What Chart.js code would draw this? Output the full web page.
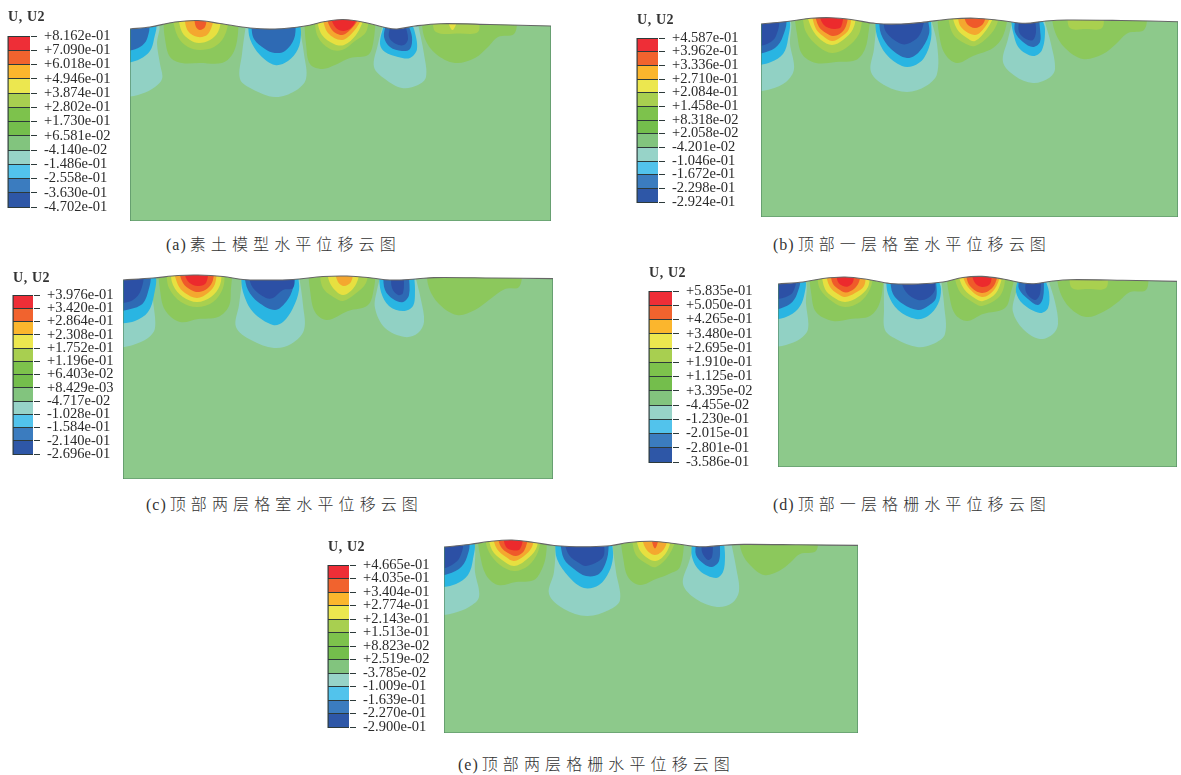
<!DOCTYPE html>
<html>
<head>
<meta charset="utf-8">
<title>U2</title>
<script src="https://cdn.jsdelivr.net/npm/chart.js@4/dist/chart.umd.js"></script>
<style>
  html, body { margin: 0; background: #fff; }
  #page { position: relative; width: 1181px; height: 775px; overflow: hidden; }
  canvas { position: absolute; }
  .name { position: absolute; font: bold 14px "Liberation Serif", serif; letter-spacing: .6px; color: #333; white-space: nowrap; transform: translateY(-50%); }
  .cap { position: absolute; font: 300 16px "Noto Sans CJK SC", sans-serif; letter-spacing: 5.1px; color: #333; white-space: nowrap; transform: translateY(-50%); }
  .cap span { font-family: "Liberation Serif", serif; font-size: 16px; letter-spacing: 1px; margin-right: 3px; }
</style>
</head>
<body>
<div id="page"></div>
<script>
// colour levels, top of the legend first
const legendColors = ['#ee2e37', '#f1632e', '#fbb62d', '#ece74f', '#a8cf50', '#7dc24c', '#74be4c', '#82c47e', '#97d3c8', '#52c3ec', '#3b7cbf', '#2e57a7'];
const fieldColors = ['#ec2a2d', '#ef5a2a', '#f4a72f', '#e7e040', '#a9d04f', '#8cc85c', '#8cc85c', '#8dc98b', '#91d1c4', '#29b5e2', '#2e6ab4', '#2c50a5'];
const Y = 3, YG = 4, G = 6, T = 8, S = 9, B = 10, D = 11, R = 0, RO = 1, O = 2;

const ticksA = ['+8.162e-01', '+7.090e-01', '+6.018e-01', '+4.946e-01', '+3.874e-01', '+2.802e-01', '+1.730e-01', '+6.581e-02', '-4.140e-02', '-1.486e-01', '-2.558e-01', '-3.630e-01', '-4.702e-01'];
const ticksB = ['+4.587e-01', '+3.962e-01', '+3.336e-01', '+2.710e-01', '+2.084e-01', '+1.458e-01', '+8.318e-02', '+2.058e-02', '-4.201e-02', '-1.046e-01', '-1.672e-01', '-2.298e-01', '-2.924e-01'];
const ticksC = ['+3.976e-01', '+3.420e-01', '+2.864e-01', '+2.308e-01', '+1.752e-01', '+1.196e-01', '+6.403e-02', '+8.429e-03', '-4.717e-02', '-1.028e-01', '-1.584e-01', '-2.140e-01', '-2.696e-01'];
const ticksD = ['+5.835e-01', '+5.050e-01', '+4.265e-01', '+3.480e-01', '+2.695e-01', '+1.910e-01', '+1.125e-01', '+3.395e-02', '-4.455e-02', '-1.230e-01', '-2.015e-01', '-2.801e-01', '-3.586e-01'];
const ticksE = ['+4.665e-01', '+4.035e-01', '+3.404e-01', '+2.774e-01', '+2.143e-01', '+1.513e-01', '+8.823e-02', '+2.519e-02', '-3.785e-02', '-1.009e-01', '-1.639e-01', '-2.270e-01', '-2.900e-01'];

// ground surface: [distance, depth below the initial ground line]
const surfaceA = [[0,0],[20,-2],[45,-7],[68,-8.5],[90,-5.5],[120,-1],[145,0],[175,-3],[195,-7.5],[213,-9.5],[235,-6.5],[255,-1.5],[267,0],[285,-3],[310,-5.3],[360,-4.5],[421,-3]];
const surfaceB = [[0,0],[30,-3],[50,-5.7],[70,-6.3],[90,-4.5],[115,-0.5],[140,0],[160,-1.5],[190,-5],[214,-5.8],[240,-3.5],[264,-0.7],[285,-3],[306,-4],[360,-3.5],[417,-2.3]];
const surfaceC = [[0,0],[30,-2],[55,-4.5],[75,-5],[100,-3.5],[120,-0.5],[140,0],[170,-0.5],[200,-3.5],[224,-4],[245,-2.5],[262,-0.3],[276,0],[295,-1.2],[311,-2.4],[370,-2],[430,-1.4]];
const surfaceD = [[0,0],[25,-2],[45,-5.5],[67,-7],[90,-4.5],[112,-0.5],[140,0],[165,-2],[185,-6.5],[204,-7.6],[225,-5],[245,-1],[256,-0.3],[275,-3],[292,-4.3],[345,-3.7],[399,-2.6]];
const surfaceE = [[0,0],[25,-2.5],[45,-5.5],[68,-7],[90,-4.5],[110,-1.5],[125,-0.5],[145,-0.3],[166,-1.3],[185,-4.5],[208,-5.7],[230,-3.5],[250,-0.8],[262,-0.3],[280,-1.8],[300,-2.6],[355,-2.2],[414,-1.6]];

// contour bands, outer band first: [level, outline]
const contoursA = [
  [T, [[-5,-5],[28,-5],[27,15],[30,35],[32,50],[22,60],[8,66],[-5,68]]],
  [S, [[-5,-5],[25,-5],[24,10],[20,22],[10,30],[-5,35]]],
  [B, [[-5,-5],[18,-5],[17,10],[10,18],[-5,23]]],
  [G, [[33,-12],[35,10],[40,28],[52,34],[70,34],[92,34],[102,26],[107,12],[109,-12]]],
  [YG, [[42,-12],[48,8],[58,18],[70,21],[84,18],[94,8],[100,-12]]],
  [Y, [[48,-12],[52,3],[60,11],[69,14],[80,11],[88,3],[92,-12]]],
  [O, [[54,-12],[58,2],[68,8],[78,5],[85,-12]]],
  [RO, [[64,-12],[66,-2],[70,1],[75,-2],[77,-12]]],
  [T, [[116,-5],[112,25],[110,50],[122,60],[145,68],[165,62],[176,50],[174,25],[169,-5]]],
  [S, [[118,-5],[120,10],[130,26],[145,36],[158,32],[168,20],[171,5],[170,-5]]],
  [B, [[121,-5],[124,10],[135,20],[145,24],[155,22],[164,10],[166,-5]]],
  [G, [[174,-12],[176,15],[180,35],[192,40],[205,36],[220,29],[238,26],[243,15],[246,-12]]],
  [YG, [[184,-12],[188,8],[200,20],[212,21],[225,12],[236,3],[239,-12]]],
  [Y, [[186,-12],[192,6],[204,15],[214,16],[226,6],[235,-12]]],
  [O, [[192,-12],[198,4],[212,11],[224,2],[233,-12]]],
  [RO, [[196,-12],[202,1],[212,6],[222,-1],[230,-12]]],
  [R, [[200,-12],[206,-1],[214,2],[222,-2],[228,-12]]],
  [T, [[253,-5],[248,15],[244,38],[255,50],[272,59],[288,56],[296,48],[294,25],[288,-5]]],
  [S, [[254,-5],[250,15],[255,23],[268,28],[280,29],[287,20],[284,0],[281,-5]]],
  [B, [[256,-5],[254,8],[260,18],[272,22],[280,20],[282,8],[278,-5]]],
  [D, [[261,-5],[259,8],[266,15],[274,16],[278,10],[275,-5]]],
  [G, [[291,-12],[295,10],[306,25],[325,34],[345,29],[358,18],[368,8],[384,5],[388,-12]]],
  [YG, [[302,-12],[306,3],[330,4.5],[348,3],[349,-12]]],
  [Y, [[316,-12],[322.5,1],[329,-12]]]
];
const contoursB = [
  [T, [[-5,-5],[28,-5],[29,20],[33,45],[25,58],[10,65],[-5,68]]],
  [S, [[-5,-5],[27,-5],[27,15],[22,30],[10,38],[-5,42]]],
  [B, [[-5,-5],[24,-5],[22,12],[14,24],[-5,31]]],
  [D, [[-5,-5],[17,-5],[15,12],[8,19],[-5,23]]],
  [G, [[33,-12],[36,10],[41,30],[55,39],[75,38],[95,36],[104,25],[108,5],[110,-12]]],
  [YG, [[41,-12],[45,8],[58,23],[71,29],[85,24],[98,10],[102,-12]]],
  [Y, [[45,-12],[51,5],[60,16],[71,21],[82,16],[92,5],[96,-12]]],
  [O, [[50,-12],[55,5],[62,12],[71,17],[80,13],[88,5],[91,-12]]],
  [RO, [[53,-12],[58,3],[65,9],[72,12],[80,9],[85,2],[88,-12]]],
  [R, [[57,-12],[62,0],[68,4],[74,5],[80,3],[83,-12]]],
  [T, [[116,-5],[113,25],[110,48],[125,62],[146,68],[165,62],[176,50],[176,20],[170,-5]]],
  [S, [[114,-5],[116,12],[125,30],[141,42],[152,42],[163,34],[170,15],[170,-5]]],
  [B, [[118,-5],[120,10],[130,25],[146,34],[158,28],[168,10],[167,-5]]],
  [D, [[122,-5],[125,8],[138,19],[146,20],[158,12],[164,-5]]],
  [G, [[176,-12],[178,10],[184,30],[196,39],[212,32],[232,24],[242,12],[248,-12]]],
  [YG, [[186,-12],[192,10],[205,20],[214,22],[228,12],[236,0],[238,-12]]],
  [Y, [[190,-12],[196,5],[206,14],[214,17],[226,5],[235,-12]]],
  [O, [[196,-12],[200,3],[214,11],[224,3],[232,-12]]],
  [RO, [[202,-12],[206,0],[214,4],[222,0],[226,-12]]],
  [T, [[252,-5],[247,15],[242,38],[254,52],[272,59],[288,54],[294,45],[290,20],[283,-5]]],
  [S, [[250,-5],[252,8],[258,24],[272,32],[281,26],[284,5],[281,-5]]],
  [B, [[254,-5],[254,8],[262,18],[272,23],[279,18],[279,5],[278,-5]]],
  [D, [[258,-5],[258,8],[265,15],[272,16],[275,8],[274,-5]]],
  [G, [[290,-12],[294,8],[304,24],[322,35],[342,30],[355,20],[367,9],[383,6],[387,-12]]],
  [YG, [[306,-12],[309,4],[325,5],[341,4],[343,-12]]]
];
const contoursC = [
  [T, [[-5,-5],[28,-5],[30,20],[32,48],[25,58],[10,65],[-5,68]]],
  [S, [[-5,-5],[31,-5],[31,15],[25,32],[12,41],[-5,44]]],
  [B, [[-5,-5],[26,-5],[25,12],[18,25],[-5,32]]],
  [D, [[-5,-5],[19,-5],[18,10],[10,20],[-5,24]]],
  [G, [[35,-12],[37,10],[42,30],[57,42],[75,39],[95,37],[106,26],[108,8],[110,-12]]],
  [YG, [[43,-12],[46,8],[58,22],[74,27],[90,22],[100,8],[102,-12]]],
  [Y, [[47,-12],[50,5],[60,17],[74,22],[88,17],[97,5],[99,-12]]],
  [O, [[50,-12],[55,5],[62,13],[74,18],[85,13],[92,4],[94,-12]]],
  [RO, [[55,-12],[60,3],[68,10],[76,12],[85,8],[90,0],[91,-12]]],
  [R, [[60,-12],[64,0],[70,5],[76,6],[83,3],[86,-12]]],
  [T, [[120,-5],[116,25],[113,47],[128,60],[151,68],[168,64],[181,50],[180,25],[176,-5]]],
  [S, [[118,-5],[120,12],[130,32],[150,45],[160,42],[170,28],[176,10],[175,-5]]],
  [B, [[121,-5],[125,10],[135,22],[152,30],[163,22],[170,8],[170,-5]]],
  [D, [[125,-5],[130,8],[143,18],[150,18],[160,10],[170,8],[172,-5]]],
  [G, [[185,-12],[187,10],[192,32],[204,40],[225,31],[245,25],[251,8],[253,-12]]],
  [YG, [[196,-12],[200,8],[212,18],[220,21],[232,14],[243,3],[245,-12]]],
  [Y, [[203,-12],[208,5],[220,15],[232,6],[238,-12]]],
  [O, [[211,-12],[215,2],[221,6],[228,2],[231,-12]]],
  [T, [[258,-5],[254,10],[252,28],[262,48],[282,57],[295,53],[301,42],[298,20],[292,-5]]],
  [S, [[256,-5],[258,12],[266,26],[280,31],[290,26],[292,10],[291,-5]]],
  [B, [[260,-5],[262,10],[270,19],[280,22],[286,15],[286,-5]]],
  [D, [[268,-5],[269,8],[275,15],[280,13],[281,-5]]],
  [G, [[303,-12],[306,8],[316,24],[334,35],[352,30],[366,20],[382,9],[396,7],[400,-12]]]
];
const contoursD = [
  [T, [[-5,-5],[26,-5],[28,20],[30,45],[22,55],[8,61],[-5,63]]],
  [S, [[-5,-5],[26,-5],[26,12],[20,25],[8,33],[-5,36]]],
  [B, [[-5,-5],[21,-5],[19,10],[12,20],[-5,27]]],
  [D, [[-5,-5],[17,-5],[15,8],[8,13],[-5,16]]],
  [G, [[31,-12],[33,8],[38,28],[55,37],[72,35],[92,32],[102,18],[106,-12]]],
  [YG, [[39,-12],[42,5],[55,18],[67,23],[82,18],[92,5],[96,-12]]],
  [Y, [[43,-12],[47,5],[55,13],[67,18],[80,13],[90,3],[92,-12]]],
  [O, [[47,-12],[52,3],[60,10],[67,13],[77,9],[86,2],[88,-12]]],
  [RO, [[52,-12],[55,0],[62,6],[68,8.5],[76,5],[81,-2],[83,-12]]],
  [R, [[58,-12],[60,-2],[65,2],[70,2.5],[75,-2],[76,-12]]],
  [T, [[106,-5],[106,25],[107,46],[118,55],[139,63],[155,60],[167,50],[166,20],[163,-5]]],
  [S, [[108,-5],[110,10],[120,26],[138,35],[150,32],[160,20],[163,5],[160,-5]]],
  [B, [[112,-5],[115,10],[125,20],[140,26],[150,22],[158,14],[158,-5]]],
  [D, [[122,-5],[128,8],[140,16],[150,14],[157,6],[156,-5]]],
  [G, [[168,-12],[171,10],[177,30],[189,37],[205,30],[227,24],[233,8],[238,-12]]],
  [YG, [[175,-12],[182,8],[196,19],[204,22],[220,14],[226,3],[227,-12]]],
  [Y, [[179,-12],[186,5],[198,15],[205,17],[218,9],[226,-12]]],
  [O, [[183,-12],[190,3],[204,13],[216,6],[224,-12]]],
  [RO, [[187,-12],[192,2],[204,9],[215,3],[221,-12]]],
  [R, [[193,-12],[197,-1],[204,3],[212,0],[214,-12]]],
  [T, [[243,-5],[237,12],[235,28],[245,45],[262,55],[275,50],[280,40],[277,18],[270,-5]]],
  [S, [[240,-5],[238,8],[245,20],[262,29],[270,24],[271,8],[267,-5]]],
  [B, [[241,-5],[241,5],[250,15],[260,21],[265,14],[266,-5]]],
  [D, [[248,-5],[248,8],[257,16],[262,10],[263,-5]]],
  [G, [[278,-12],[282,8],[292,24],[308,33],[325,28],[340,18],[352,8],[368,6],[371,-12]]],
  [YG, [[291,-12],[294,4],[310,5],[328,4],[330,-12]]]
];
const contoursE = [
  [T, [[-5,-5],[28,-5],[31,25],[35,50],[25,60],[10,66],[-5,69]]],
  [S, [[-5,-5],[29,-5],[29,12],[24,28],[12,37],[-5,41]]],
  [B, [[-5,-5],[24,-5],[23,10],[15,22],[-5,30]]],
  [D, [[-5,-5],[18,-5],[16,10],[8,18],[-5,23]]],
  [G, [[33,-12],[36,8],[42,28],[54,38],[72,35],[90,33],[98,22],[102,8],[103,-12]]],
  [YG, [[40,-12],[45,5],[56,18],[70,24],[84,19],[94,5],[97,-12]]],
  [Y, [[44,-12],[48,3],[58,13],[70,19],[82,13],[92,2],[95,-12]]],
  [O, [[48,-12],[53,2],[62,10],[70,14],[80,9],[88,0],[90,-12]]],
  [RO, [[53,-12],[57,0],[64,6],[72,9],[80,4],[85,-12]]],
  [R, [[59,-12],[62,0],[70,3.5],[76,2],[80,-12]]],
  [T, [[112,-5],[110,25],[105,47],[120,62],[143,69],[165,63],[176,53],[172,25],[168,-5]]],
  [S, [[111,-5],[113,12],[125,30],[140,41],[155,38],[165,25],[169,10],[168,-5]]],
  [B, [[116,-5],[120,12],[130,22],[142,29],[155,27],[163,12],[165,-5]]],
  [D, [[120,-5],[125,8],[135,16],[142,19],[155,14],[160,8],[160,-5]]],
  [G, [[176,-12],[179,10],[184,30],[196,38],[212,32],[225,27],[236,20],[241,-12]]],
  [YG, [[187,-12],[192,8],[203,17],[212,20],[225,8],[234,-12]]],
  [Y, [[191,-12],[197,5],[211,14],[222,6],[229,-12]]],
  [O, [[197,-12],[202,2],[211,8],[220,2],[225,-12]]],
  [RO, [[206,-12],[211,1.5],[216,-12]]],
  [T, [[251,-5],[245,15],[239,37],[252,52],[273,60],[288,56],[295,44],[292,20],[287,-5]]],
  [S, [[248,-5],[248,10],[256,24],[272,31],[279,25],[281,10],[280,-5]]],
  [B, [[252,-5],[252,8],[260,17],[268,20],[275,14],[276,-5]]],
  [D, [[258,-5],[258,5],[264,13],[268,10],[269,-5]]],
  [G, [[294,-12],[298,6],[306,18],[320,28],[335,24],[347,15],[356,7],[372,4],[374,-12]]]
];

const captions = ['素土模型水平位移云图', '顶部一层格室水平位移云图', '顶部两层格室水平位移云图', '顶部一层格栅水平位移云图', '顶部两层格栅水平位移云图'];

const page = document.getElementById('page');
const RISE = 12; // room above the ground line
const PAD = 2;

function novoCanvas(x, y, w, h) {
  const c = document.createElement('canvas');
  c.width = w; c.height = h;
  c.style.left = x + 'px'; c.style.top = y + 'px';
  c.style.width = w + 'px'; c.style.height = h + 'px';
  page.appendChild(c);
  return c;
}

function xy(list) {
  return list.map(p => ({ x: p[0], y: p[1] }));
}

function desenharModelo(left, ground, W, H, surface, contours) {
  const canvas = novoCanvas(left - PAD, ground - RISE - PAD, W + PAD * 2, H + RISE + PAD * 2);
  const ds = [];
  const body = [[-5, -RISE], [W + 5, -RISE], [W + 5, H + 5], [-5, H + 5]];
  ds.push({ data: xy(body), backgroundColor: fieldColors[7], fill: 'shape', tension: 0 });
  contours.forEach(c => {
    ds.push({ data: xy(c[1]), backgroundColor: fieldColors[c[0]], fill: 'shape', tension: 0.35 });
  });
  // white above the deformed ground
  ds.push({ data: xy(surface), backgroundColor: '#fff', fill: 'end', borderColor: '#666', borderWidth: 1.1, tension: 0.35 });
  const frame = [[0, 0], [0, H], [W, H], surface[surface.length - 1]];
  ds.push({ data: xy(frame), borderColor: '#4f8560', borderWidth: 1.2, tension: 0 });

  ds.forEach((d, i) => {
    d.order = ds.length - i;
    d.showLine = true;
    d.pointRadius = 0;
    if (d.borderWidth === undefined) d.borderWidth = 0;
  });

  new Chart(canvas, {
    type: 'scatter',
    data: { datasets: ds },
    options: {
      responsive: false,
      animation: false,
      events: [],
      layout: { padding: PAD },
      plugins: { legend: { display: false }, tooltip: { enabled: false } },
      scales: {
        x: { type: 'linear', min: 0, max: W, display: false },
        y: { type: 'linear', min: -RISE, max: H, reverse: true, display: false }
      }
    }
  });
}

function desenharLegenda(barLeft, barRight, top, bottom, ticks, titleY) {
  const CW = 125;
  const barW = barRight - barLeft;
  const canvas = novoCanvas(barLeft - 1, top - 9, CW, bottom - top + 18);
  new Chart(canvas, {
    type: 'bar',
    data: {
      labels: ['U2'],
      datasets: legendColors.map(cor => ({
        data: [1], backgroundColor: cor, barPercentage: 1, categoryPercentage: 1,
        borderColor: '#2d3a3a', borderWidth: { left: 1 }, borderSkipped: false
      }))
    },
    options: {
      responsive: false,
      animation: false,
      events: [],
      layout: { padding: { left: 1, top: 9, bottom: 9 } },
      plugins: { legend: { display: false }, tooltip: { enabled: false } },
      scales: {
        x: { stacked: true, display: false },
        y: {
          stacked: true,
          position: 'right',
          reverse: true,
          min: 0,
          max: 12,
          // the bar must fill the box, so the labels get no extra room
          afterFit: s => { s.width = CW - 1 - barW; s.paddingTop = 0; s.paddingBottom = 0; },
          ticks: {
            stepSize: 1,
            autoSkip: false,
            padding: 7,
            color: '#2a2a2a',
            font: { family: '"Liberation Serif", serif', size: 14.5 },
            callback: v => ticks[v]
          },
          grid: { color: '#2d3a3a', lineWidth: 1, tickLength: 7, z: 1 },
          border: { color: '#2d3a3a' }
        }
      }
    }
  });
  const t = document.createElement('div');
  t.className = 'name';
  t.textContent = 'U, U2';
  t.style.left = barLeft + 'px';
  t.style.top = titleY + 'px';
  page.appendChild(t);
}

function legenda(letra, texto, x, y) {
  const d = document.createElement('div');
  d.className = 'cap';
  d.innerHTML = '<span>(' + letra + ')</span>' + texto;
  d.style.left = x + 'px';
  d.style.top = y + 'px';
  page.appendChild(d);
}

desenharModelo(130, 29, 421, 192, surfaceA, contoursA);
desenharModelo(761, 24, 417, 193, surfaceB, contoursB);
desenharModelo(123, 280, 430, 199, surfaceC, contoursC);
desenharModelo(778, 284, 399, 183, surfaceD, contoursD);
desenharModelo(444, 547, 414, 186, surfaceE, contoursE);

desenharLegenda(8, 30, 36, 207, ticksA, 17);
desenharLegenda(637, 658, 38, 202, ticksB, 20);
desenharLegenda(13, 33, 295, 454, ticksC, 278);
desenharLegenda(649, 672, 291, 462, ticksD, 273);
desenharLegenda(328, 349, 565, 727, ticksE, 547);

legenda('a', captions[0], 166, 243);
legenda('b', captions[1], 773, 243);
legenda('c', captions[2], 146, 503);
legenda('d', captions[3], 773, 503);
legenda('e', captions[4], 458, 763);
</script>
</body>
</html>
